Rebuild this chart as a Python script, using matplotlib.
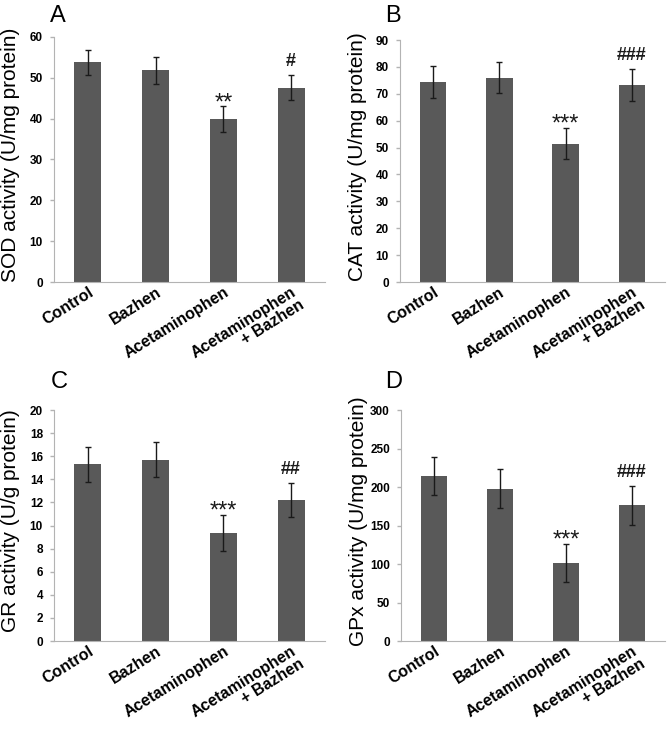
import matplotlib
matplotlib.use("Agg")
import matplotlib.pyplot as plt  # noqa: E402

plt.rcParams["font.family"] = ["Liberation Sans", "DejaVu Sans"]

groups = ["Control", "Bazhen", "Acetaminophen", "Acetaminophen\n+ Bazhen"]

sod_mean = [53.8, 51.8, 39.9, 47.6]
sod_err = [3.1, 3.2, 3.1, 3.1]
sod_marks = ["", "", "**", "#"]

cat_mean = [74.3, 76.0, 51.5, 73.3]
cat_err = [5.9, 5.8, 5.8, 5.9]
cat_marks = ["", "", "***", "###"]

gr_mean = [15.3, 15.7, 9.35, 12.2]
gr_err = [1.5, 1.5, 1.55, 1.5]
gr_marks = ["", "", "***", "##"]

gpx_mean = [214, 198, 101, 176]
gpx_err = [25, 25, 25, 25]
gpx_marks = ["", "", "***", "###"]

panels = [
    ("A", sod_mean, sod_err, sod_marks, "SOD activity (U/mg protein)", 60, 10,
     [0.0806, 0.6158, 0.4044, 0.3338], (0.075, 0.978)),
    ("B", cat_mean, cat_err, cat_marks, "CAT activity (U/mg protein)", 90, 10,
     [0.597, 0.6158, 0.3955, 0.3297], (0.575, 0.978)),
    ("C", gr_mean, gr_err, gr_marks, "GR activity (U/g protein)", 20, 2,
     [0.0806, 0.1267, 0.4044, 0.3147], (0.075, 0.480)),
    ("D", gpx_mean, gpx_err, gpx_marks, "GPx activity (U/mg protein)", 300, 50,
     [0.5985, 0.1267, 0.394, 0.3147], (0.575, 0.480)),
]

fig = plt.figure(figsize=(6.7, 7.34), dpi=100)
bar_color = "#595959"
axis_color = "#b3b3b3"

for letter, mean, err, marks, ylabel, ymax, step, rect, lpos in panels:
    ax = fig.add_axes(rect)
    x = list(range(len(groups)))
    ax.bar(x, mean, width=0.4, color=bar_color, zorder=2)
    ax.errorbar(x, mean, yerr=err, fmt="none", ecolor="#1a1a1a",
                elinewidth=1.0, capsize=2, capthick=1.0, zorder=3)
    for xi, m, e, mk in zip(x, mean, err, marks):
        if not mk:
            continue
        if "#" in mk:
            ax.annotate(mk, (xi, m + e), xytext=(0, 6.5), textcoords="offset points",
                        ha="center", va="baseline", fontsize=13, fontweight="bold",
                        color="#1a1a1a")
        else:
            ax.annotate(mk, (xi, m + e), xytext=(0, -2), textcoords="offset points",
                        ha="center", va="baseline", fontsize=17, color="#1a1a1a")
    ax.set_xlim(-0.5, len(groups) - 0.5)
    ax.set_ylim(0, ymax)
    ax.set_yticks(range(0, ymax + 1, step))
    ax.set_xticks(x)
    ax.set_xticklabels(groups, rotation=32, ha="right", rotation_mode="anchor",
                       fontsize=11.5, fontweight="bold", multialignment="right",
                       linespacing=1.0)
    for lbl in ax.get_yticklabels():
        lbl.set_fontweight("bold")
        lbl.set_fontsize(8.5)
    ax.tick_params(axis="x", length=0, pad=2)
    ax.tick_params(axis="y", length=3, color=axis_color, width=1, pad=5)
    ax.spines["top"].set_visible(False)
    ax.spines["right"].set_visible(False)
    ax.spines["left"].set_color(axis_color)
    ax.spines["bottom"].set_color(axis_color)
    ax.set_ylabel(ylabel, fontsize=15)
    ax.yaxis.set_label_coords(-0.125, 0.52)
    fig.text(lpos[0], lpos[1], letter, fontsize=17, ha="left", va="center")

fig.savefig("out.png", dpi=100)
